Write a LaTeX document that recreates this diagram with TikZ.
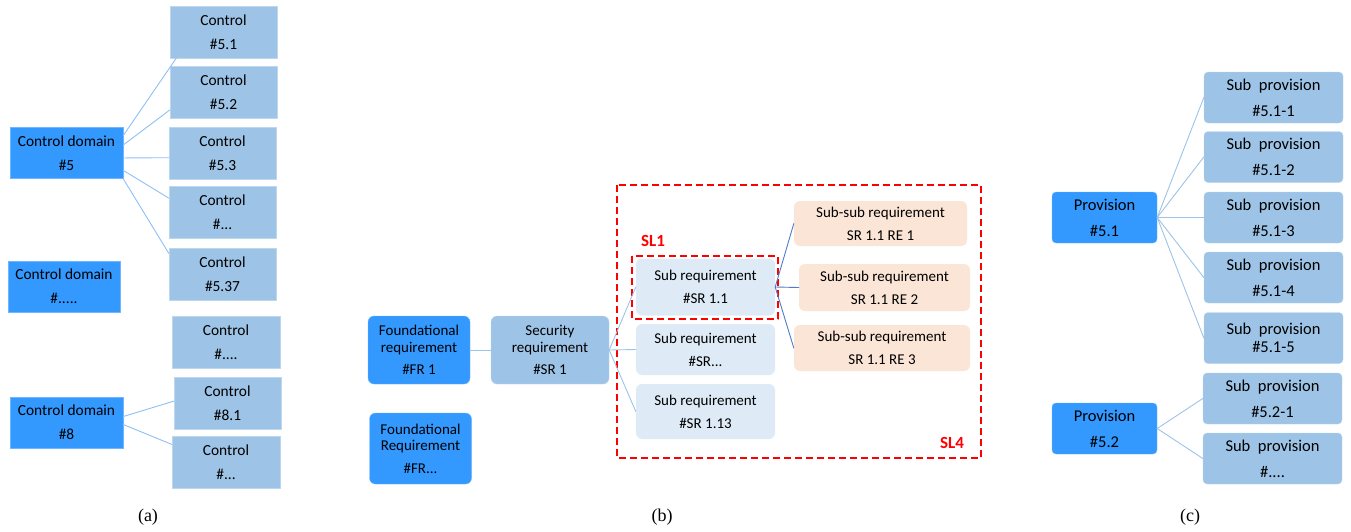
\documentclass[tikz,border=0pt]{standalone}
\usepackage{fontspec}
\usepackage{tikz}
\newfontfamily\boxfont{Carlito}
\newfontfamily\capfont{Liberation Serif}
\definecolor{brightblue}{HTML}{3399FF}
\definecolor{brightedge}{HTML}{6FB5FF}
\definecolor{paleblue}{HTML}{9DC3E6}
\definecolor{paleedge}{HTML}{BDD7EE}
\definecolor{faintblue}{HTML}{DEEBF7}
\definecolor{peach}{HTML}{FBE5D6}
\definecolor{linkblue}{HTML}{8EC0F5}
\definecolor{linkpale}{HTML}{9DC3E6}
\definecolor{linkdark}{HTML}{4F7BC8}
\definecolor{slred}{HTML}{FF0000}

\begin{document}
\begin{tikzpicture}[line cap=round,line join=round,x=1pt,y=-1pt,
domainbox/.style={draw=brightedge,fill=brightblue,minimum width=113pt,minimum height=51pt,inner sep=0pt,align=center,font=\boxfont\fontsize{15.4}{18}\selectfont},
ctrlbox/.style={draw=paleedge,fill=paleblue,minimum width=107pt,minimum height=52pt,inner sep=0pt,align=center,font=\boxfont\fontsize{15.4}{18}\selectfont},
frbox/.style={draw=brightedge,fill=brightblue,rounded corners=6pt,minimum width=102pt,minimum height=68pt,inner sep=0pt,align=center,font=\boxfont\fontsize{15}{16.5}\selectfont},
srbox/.style={draw=paleedge,fill=paleblue,rounded corners=6pt,minimum width=118pt,minimum height=68pt,inner sep=0pt,align=center,font=\boxfont\fontsize{15}{16.5}\selectfont},
subbox/.style={fill=faintblue,rounded corners=6pt,minimum width=139pt,inner sep=0pt,align=center,font=\boxfont\fontsize{15}{17}\selectfont},
subsubbox/.style={fill=peach,rounded corners=6pt,inner sep=0pt,align=center,font=\boxfont\fontsize{15}{17}\selectfont},
provbox/.style={draw=brightedge,fill=brightblue,rounded corners=4pt,minimum width=105pt,minimum height=51pt,inner sep=0pt,align=center,font=\boxfont\fontsize{16.5}{18}\selectfont},
subprovbox/.style={draw=paleedge,fill=paleblue,rounded corners=4pt,minimum width=139pt,minimum height=51pt,inner sep=0pt,align=center,font=\boxfont\fontsize{16.5}{18}\selectfont},
bluelink/.style={draw=linkblue,line width=0.9pt},
palelink/.style={draw=linkpale,line width=0.9pt},
darklink/.style={draw=linkdark,line width=0.9pt},
sldash/.style={draw=slred,line width=1.6pt,dash pattern=on 7pt off 4pt,line cap=butt},
sllabel/.style={text=slred,font=\boxfont\bfseries\fontsize{17}{18}\selectfont,inner sep=0pt},
captext/.style={font=\capfont\fontsize{18}{20}\selectfont,inner sep=0pt}]
\useasboundingbox (0,0) rectangle (1351,531);
\node[domainbox] (d5) at (66.5,153) {Control domain\\[6pt]\#5};
\node[ctrlbox] (c51) at (223.5,32) {Control\\[6pt]\#5.1};
\node[ctrlbox] (c52) at (223.5,92.5) {Control\\[6pt]\#5.2};
\node[ctrlbox] (c53) at (222.5,153) {Control\\[6pt]\#5.3};
\node[ctrlbox] (c5x) at (222.5,212.5) {Control\\[6pt]\#...};
\node[ctrlbox] (c537) at (222.5,274) {Control\\[6pt]\#5.37};
\node[domainbox,minimum width=112pt] (dx) at (64,286.5) {Control domain\\[6pt]\#.....};
\node[ctrlbox,minimum width=108pt] (cx) at (226,342) {Control\\[6pt]\#....};
\node[ctrlbox] (c81) at (227.5,403) {Control\\[6pt]\#8.1};
\node[domainbox] (d8) at (66.5,422.5) {Control domain\\[6pt]\#8};
\node[ctrlbox,minimum width=108pt] (c8x) at (226,462) {Control\\[6pt]\#...};
\draw[bluelink] (d5.17) -- (c51.209);
\draw[bluelink] (d5.8) -- (c52.198);
\draw[bluelink] (d5.-5) -- (c53.185);
\draw[bluelink] (d5.-17) -- (c5x.165);
\draw[bluelink] (d5.south east) -- (c537.159);
\draw[bluelink] (d8.6) -- (c81.178);
\draw[bluelink] (d8.-2) -- (c8x.162);
\node[captext] (capa) at (148,517) {(a)};
\draw[sldash] (617,185) rectangle (981,458);
\node[frbox] (fr1) at (419,350) {Foundational\\requirement\\[6pt]\#FR 1};
\node[frbox,minimum height=71pt] (frx) at (420.5,448.5) {Foundational\\Requirement\\[6pt]\#FR...};
\node[srbox] (sr1) at (550,350) {Security\\requirement\\[6pt]\#SR 1};
\node[subbox,minimum height=57pt] (sr11) at (705.5,287) {Sub requirement\\[6pt]\#SR 1.1};
\node[subbox,minimum height=51pt] (srx) at (705.5,349.5) {Sub requirement\\[6pt]\#SR...};
\node[subbox,minimum height=55pt] (sr113) at (705.5,411.5) {Sub requirement\\[6pt]\#SR 1.13};
\node[subsubbox,minimum width=173pt,minimum height=45pt] (ssr1) at (880.5,223.5) {Sub-sub requirement\\[6pt]SR 1.1 RE 1};
\node[subsubbox,minimum width=171pt,minimum height=47pt] (ssr2) at (884.5,287.5) {Sub-sub requirement\\[6pt]SR 1.1 RE 2};
\node[subsubbox,minimum width=176pt,minimum height=46pt] (ssr3) at (882,348) {Sub-sub requirement\\[6pt]SR 1.1 RE 3};
\draw[sldash] (632,256) rectangle (778,319);
\node[sllabel] (sl1) at (653,241) {SL1};
\node[sllabel] (sl4) at (952,443) {SL4};
\draw[palelink] (fr1) -- (sr1);
\draw[palelink] (sr1.east) -- (sr11.west);
\draw[palelink] (sr1.east) -- (srx.west);
\draw[palelink] (sr1.east) -- (sr113.west);
\draw[darklink] (sr11.east) -- (ssr1.west);
\draw[darklink] (sr11.east) -- (ssr2.west);
\draw[darklink] (sr11.east) -- (ssr3.west);
\node[captext] (capb) at (662,517) {(b)};
\node[provbox] (p51) at (1104.5,217.5) {Provision\\[8pt]\#5.1};
\node[subprovbox] (s511) at (1273.5,97.5) {Sub\ \ provision\\[8pt]\#5.1-1};
\node[subprovbox] (s512) at (1273.5,157) {Sub\ \ provision\\[8pt]\#5.1-2};
\node[subprovbox] (s513) at (1273.5,217.5) {Sub\ \ provision\\[8pt]\#5.1-3};
\node[subprovbox] (s514) at (1273.5,277.5) {Sub\ \ provision\\[8pt]\#5.1-4};
\node[subprovbox] (s515) at (1273.5,338) {Sub\ \ provision\\\#5.1-5};
\node[subprovbox] (s521) at (1272.5,398.5) {Sub\ \ provision\\[8pt]\#5.2-1};
\node[subprovbox] (s52x) at (1272.5,458.5) {Sub\ \ provision\\[8pt]\#....};
\node[provbox] (p52) at (1104.5,428.5) {Provision\\[8pt]\#5.2};
\draw[palelink] (p51.east) -- (s511.west);
\draw[palelink] (p51.east) -- (s512.west);
\draw[palelink] (p51.east) -- (s513.west);
\draw[palelink] (p51.east) -- (s514.west);
\draw[palelink] (p51.east) -- (s515.west);
\draw[palelink] (p52.east) -- (s521.west);
\draw[palelink] (p52.east) -- (s52x.west);
\node[captext] (capc) at (1190,517) {(c)};
\end{tikzpicture}
\end{document}
